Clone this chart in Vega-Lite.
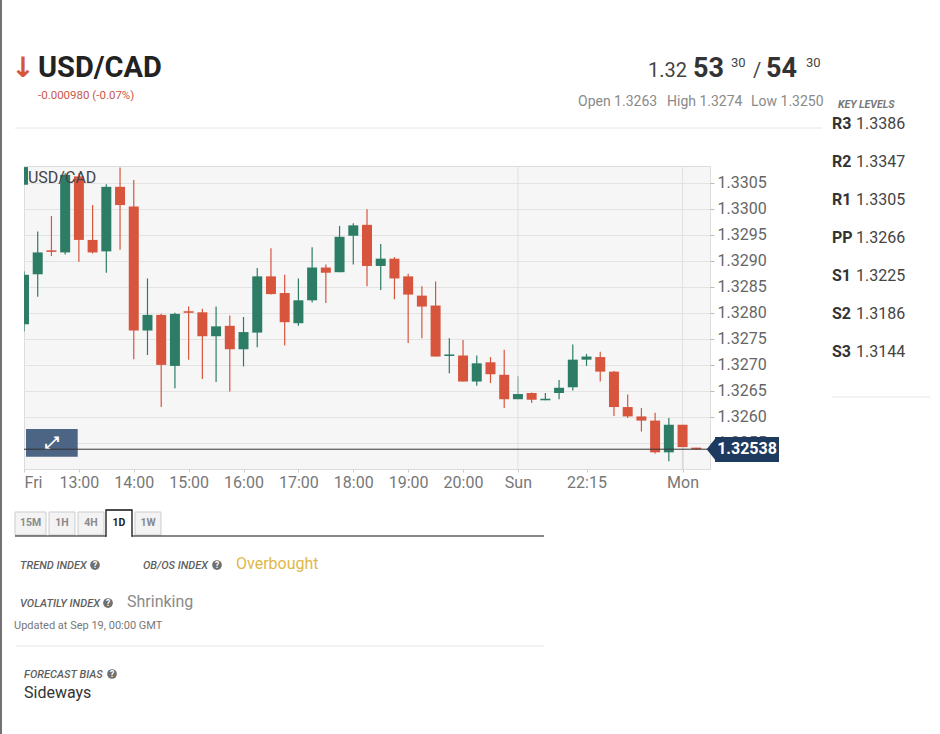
{
  "$schema": "https://vega.github.io/schema/vega-lite/v6.json",
  "width": 686,
  "height": 303,
  "autosize": {"type": "none"},
  "padding": {"left": 24, "top": 166, "right": 230, "bottom": 265},
  "background": "#ffffff",
  "config": {"font": "Roboto", "view": {"fill": "#f6f6f7", "stroke": "#dcdcdc"}},
  "datasets": {
    "candles": [
      {"i": 0, "time": "Fri 12:00", "open": 1.32778, "high": 1.32880, "low": 1.32764, "close": 1.32873},
      {"i": 1, "time": "Fri 12:15", "open": 1.32874, "high": 1.32956, "low": 1.32831, "close": 1.32916},
      {"i": 2, "time": "Fri 12:30", "open": 1.32920, "high": 1.32986, "low": 1.32909, "close": 1.32917},
      {"i": 3, "time": "Fri 12:45", "open": 1.32916, "high": 1.33068, "low": 1.32912, "close": 1.33065},
      {"i": 4, "time": "Fri 13:00", "open": 1.33062, "high": 1.33068, "low": 1.32898, "close": 1.32940},
      {"i": 5, "time": "Fri 13:15", "open": 1.32940, "high": 1.33007, "low": 1.32914, "close": 1.32916},
      {"i": 6, "time": "Fri 13:30", "open": 1.32918, "high": 1.33047, "low": 1.32877, "close": 1.33042},
      {"i": 7, "time": "Fri 13:45", "open": 1.33042, "high": 1.33079, "low": 1.32921, "close": 1.33007},
      {"i": 8, "time": "Fri 14:00", "open": 1.33004, "high": 1.33055, "low": 1.32711, "close": 1.32766},
      {"i": 9, "time": "Fri 14:15", "open": 1.32766, "high": 1.32866, "low": 1.32719, "close": 1.32796},
      {"i": 10, "time": "Fri 14:30", "open": 1.32796, "high": 1.32798, "low": 1.32619, "close": 1.32700},
      {"i": 11, "time": "Fri 14:45", "open": 1.32698, "high": 1.32800, "low": 1.32655, "close": 1.32798},
      {"i": 12, "time": "Fri 15:00", "open": 1.32803, "high": 1.32812, "low": 1.32710, "close": 1.32800},
      {"i": 13, "time": "Fri 15:15", "open": 1.32801, "high": 1.32808, "low": 1.32673, "close": 1.32755},
      {"i": 14, "time": "Fri 15:30", "open": 1.32755, "high": 1.32812, "low": 1.32667, "close": 1.32774},
      {"i": 15, "time": "Fri 15:45", "open": 1.32775, "high": 1.32795, "low": 1.32649, "close": 1.32730},
      {"i": 16, "time": "Fri 16:00", "open": 1.32730, "high": 1.32792, "low": 1.32697, "close": 1.32763},
      {"i": 17, "time": "Fri 16:15", "open": 1.32762, "high": 1.32886, "low": 1.32734, "close": 1.32870},
      {"i": 18, "time": "Fri 16:30", "open": 1.32870, "high": 1.32924, "low": 1.32835, "close": 1.32836},
      {"i": 19, "time": "Fri 16:45", "open": 1.32838, "high": 1.32873, "low": 1.32737, "close": 1.32782},
      {"i": 20, "time": "Fri 17:00", "open": 1.32780, "high": 1.32866, "low": 1.32775, "close": 1.32824},
      {"i": 21, "time": "Fri 17:15", "open": 1.32824, "high": 1.32926, "low": 1.32820, "close": 1.32887},
      {"i": 22, "time": "Fri 17:30", "open": 1.32887, "high": 1.32893, "low": 1.32819, "close": 1.32877},
      {"i": 23, "time": "Fri 17:45", "open": 1.32878, "high": 1.32967, "low": 1.32878, "close": 1.32946},
      {"i": 24, "time": "Fri 18:00", "open": 1.32948, "high": 1.32972, "low": 1.32893, "close": 1.32968},
      {"i": 25, "time": "Fri 18:15", "open": 1.32969, "high": 1.32999, "low": 1.32851, "close": 1.32890},
      {"i": 26, "time": "Fri 18:30", "open": 1.32890, "high": 1.32932, "low": 1.32844, "close": 1.32904},
      {"i": 27, "time": "Fri 18:45", "open": 1.32904, "high": 1.32907, "low": 1.32826, "close": 1.32866},
      {"i": 28, "time": "Fri 19:00", "open": 1.32870, "high": 1.32875, "low": 1.32742, "close": 1.32835},
      {"i": 29, "time": "Fri 19:15", "open": 1.32833, "high": 1.32851, "low": 1.32751, "close": 1.32812},
      {"i": 30, "time": "Fri 19:30", "open": 1.32814, "high": 1.32860, "low": 1.32716, "close": 1.32716},
      {"i": 31, "time": "Fri 19:45", "open": 1.32717, "high": 1.32751, "low": 1.32684, "close": 1.32720},
      {"i": 32, "time": "Fri 20:00", "open": 1.32718, "high": 1.32748, "low": 1.32668, "close": 1.32668},
      {"i": 33, "time": "Fri 20:15", "open": 1.32668, "high": 1.32718, "low": 1.32660, "close": 1.32703},
      {"i": 34, "time": "Fri 20:30", "open": 1.32705, "high": 1.32715, "low": 1.32665, "close": 1.32682},
      {"i": 35, "time": "Fri 20:45", "open": 1.32681, "high": 1.32729, "low": 1.32617, "close": 1.32634},
      {"i": 36, "time": "Sun 21:00", "open": 1.32634, "high": 1.32678, "low": 1.32634, "close": 1.32644},
      {"i": 37, "time": "Sun 21:15", "open": 1.32646, "high": 1.32647, "low": 1.32627, "close": 1.32633},
      {"i": 38, "time": "Sun 21:30", "open": 1.32632, "high": 1.32646, "low": 1.32632, "close": 1.32635},
      {"i": 39, "time": "Sun 21:45", "open": 1.32646, "high": 1.32671, "low": 1.32634, "close": 1.32656},
      {"i": 40, "time": "Sun 22:00", "open": 1.32657, "high": 1.32739, "low": 1.32651, "close": 1.32710},
      {"i": 41, "time": "Sun 22:15", "open": 1.32710, "high": 1.32721, "low": 1.32698, "close": 1.32716},
      {"i": 42, "time": "Sun 22:30", "open": 1.32715, "high": 1.32725, "low": 1.32668, "close": 1.32687},
      {"i": 43, "time": "Sun 22:45", "open": 1.32687, "high": 1.32688, "low": 1.32602, "close": 1.32619},
      {"i": 44, "time": "Sun 23:00", "open": 1.32619, "high": 1.32643, "low": 1.32598, "close": 1.32601},
      {"i": 45, "time": "Sun 23:15", "open": 1.32601, "high": 1.32617, "low": 1.32572, "close": 1.32593},
      {"i": 46, "time": "Sun 23:30", "open": 1.32593, "high": 1.32608, "low": 1.32530, "close": 1.32532},
      {"i": 47, "time": "Sun 23:45", "open": 1.32532, "high": 1.32598, "low": 1.32515, "close": 1.32585},
      {"i": 48, "time": "Mon 00:00", "open": 1.32585, "high": 1.32586, "low": 1.32496, "close": 1.32542},
      {"i": 49, "time": "Mon 00:15", "open": 1.32541, "high": 1.32541, "low": 1.32537, "close": 1.32538}
    ],
    "keylevels": [
      {"label": "R3", "value": "1.3386", "il": 58.892, "iv": 60.641, "v": 1.3315307},
      {"label": "R2", "value": "1.3347", "il": 58.892, "iv": 60.641, "v": 1.3308008},
      {"label": "R1", "value": "1.3305", "il": 58.892, "iv": 60.641, "v": 1.3300709},
      {"label": "PP", "value": "1.3266", "il": 58.892, "iv": 60.641, "v": 1.3293410},
      {"label": "S1", "value": "1.3225", "il": 58.892, "iv": 60.641, "v": 1.3286111},
      {"label": "S2", "value": "1.3186", "il": 58.892, "iv": 60.641, "v": 1.3278812},
      {"label": "S3", "value": "1.3144", "il": 58.892, "iv": 60.641, "v": 1.3271513}
    ],
    "icons": [
      {"i": 5.1749, "v": 1.323156, "text": "?"},
      {"i": 14.0671, "v": 1.323156, "text": "?"},
      {"i": 6.1224, "v": 1.3224261, "text": "?"},
      {"i": 6.414, "v": 1.3210624, "text": "?"}
    ],
    "lastprice": [{"i": 50.109, "ib": 50.364, "ib2": 55.029, "it": 52.697, "price": 1.32538, "top": 1.3256147, "bottom": 1.3251345, "text": "1.32538"}]
  },
  "layer": [
    {
      "data": {"name": "candles"},
      "mark": {"type": "rule", "strokeWidth": 1.2, "clip": true},
      "encoding": {
        "x": {
          "field": "i", "type": "quantitative",
          "scale": {"domain": [0, 50], "nice": false, "zero": false, "padding": 0},
          "axis": {
            "title": null,
            "values": [0, 4, 8, 12, 16, 20, 24, 28, 32, 36, 41, 48],
            "tickCount": 60,
            "labelExpr": "datum.value == 0 ? 'Fri' : datum.value == 36 ? 'Sun' : datum.value == 41 ? '22:15' : datum.value == 48 ? 'Mon' : (12 + datum.value / 4) + ':00'",
            "grid": false, "domain": false, "tickSize": 3, "tickColor": "#cccccc",
            "labelFontSize": 16, "labelColor": "#777777", "labelPadding": 2,
            "labelFlush": true, "labelOverlap": false
          }
        },
        "y": {
          "field": "low", "type": "quantitative",
          "scale": {"domain": [1.325, 1.33082], "nice": false, "zero": false, "padding": 0},
          "axis": {
            "title": null, "orient": "right",
            "values": [1.3255, 1.326, 1.3265, 1.327, 1.3275, 1.328, 1.3285, 1.329, 1.3295, 1.33, 1.3305],
            "tickCount": 30,
            "format": ".4f", "grid": true, "gridColor": "#e3e3e3", "domain": false,
            "tickSize": 4, "tickColor": "#bbbbbb", "labelFontSize": 16, "labelColor": "#666666",
            "labelPadding": 3, "labelOverlap": false
          }
        },
        "y2": {"field": "high"},
        "color": {"condition": {"test": "datum.close >= datum.open", "value": "#2d7d66"}, "value": "#d8553d"}
      }
    },
    {
      "data": {"values": [{"i": 36}, {"i": 48}]},
      "mark": {"type": "rule", "color": "#e0e0e2", "strokeWidth": 1},
      "encoding": {"x": {"field": "i", "type": "quantitative"}}
    },
    {
      "data": {"values": [{"i": 0, "i2": 0.29, "v": 1.3308, "v2": 1.33046}]},
      "mark": {"type": "rect", "color": "#2d7d66", "clip": true},
      "encoding": {
        "x": {"field": "i", "type": "quantitative"},
        "x2": {"field": "i2"},
        "y": {"field": "v", "type": "quantitative"},
        "y2": {"field": "v2"}
      }
    },
    {
      "data": {"name": "candles"},
      "mark": {"type": "bar", "size": 10, "clip": true},
      "encoding": {
        "x": {"field": "i", "type": "quantitative", "scale": {"domain": [0, 50], "nice": false, "zero": false, "padding": 0}},
        "y": {"field": "open", "type": "quantitative", "scale": {"domain": [1.325, 1.33082], "nice": false, "zero": false, "padding": 0}},
        "y2": {"field": "close"},
        "color": {"condition": {"test": "datum.close >= datum.open", "value": "#2d7d66"}, "value": "#d8553d"}
      }
    },
    {
      "data": {"values": [{"i": 0.146, "i2": 3.914, "v": 1.325768, "v2": 1.325236}]},
      "mark": {"type": "rect", "color": "#4d6584"},
      "encoding": {
        "x": {"field": "i", "type": "quantitative"},
        "x2": {"field": "i2"},
        "y": {"field": "v", "type": "quantitative"},
        "y2": {"field": "v2"}
      }
    },
    {
      "data": {"values": [{"i": 2.041, "v": 1.3254994, "text": "⤢"}]},
      "mark": {"type": "text", "align": "center", "baseline": "middle", "font": "DejaVu Sans", "fontSize": 17, "fontWeight": "bold", "color": "#ffffff"},
      "encoding": {
        "x": {"field": "i", "type": "quantitative"},
        "y": {"field": "v", "type": "quantitative"},
        "text": {"field": "text"}
      }
    },
    {
      "data": {"name": "lastprice"},
      "mark": {"type": "rule", "color": "#333333", "strokeWidth": 1},
      "encoding": {"y": {"field": "price", "type": "quantitative"}}
    },
    {
      "data": {"values": [{"i": 0.2915, "v": 1.3305, "text": "USD/CAD"}]},
      "mark": {"type": "text", "align": "left", "baseline": "alphabetic", "fontSize": 16, "color": "#444444"},
      "encoding": {
        "x": {"field": "i", "type": "quantitative"},
        "y": {"field": "v", "type": "quantitative"},
        "text": {"field": "text"}
      }
    },
    {
      "data": {"name": "lastprice"},
      "mark": {"type": "rect", "color": "#1f3a5f"},
      "encoding": {
        "x": {"field": "ib", "type": "quantitative"},
        "x2": {"field": "ib2"},
        "y": {"field": "top", "type": "quantitative"},
        "y2": {"field": "bottom"}
      }
    },
    {
      "data": {"name": "lastprice"},
      "mark": {"type": "point", "shape": "M -0.4 0 L 0.4 -1 L 0.4 1 Z", "size": 576, "filled": true, "opacity": 1, "color": "#1f3a5f"},
      "encoding": {
        "x": {"field": "i", "type": "quantitative"},
        "y": {"field": "price", "type": "quantitative"}
      }
    },
    {
      "data": {"name": "lastprice"},
      "mark": {"type": "text", "align": "center", "baseline": "middle", "fontSize": 16, "fontWeight": "bold", "color": "#ffffff"},
      "encoding": {
        "x": {"field": "it", "type": "quantitative"},
        "y": {"field": "price", "type": "quantitative"},
        "text": {"field": "text"}
      }
    },
    {
      "data": {"values": [{"i": -0.0729, "v": 1.3325295, "text": "↓"}]},
      "mark": {"type": "text", "align": "center", "baseline": "alphabetic", "font": "DejaVu Sans", "fontSize": 28, "fontWeight": "bold", "color": "#d8553d"},
      "encoding": {
        "x": {"field": "i", "type": "quantitative"},
        "y": {"field": "v", "type": "quantitative"},
        "text": {"field": "text"}
      }
    },
    {
      "data": {"values": [{"i": 1.0204, "v": 1.3325295, "text": "USD/CAD"}]},
      "mark": {"type": "text", "align": "left", "baseline": "alphabetic", "fontSize": 29, "fontWeight": "bold", "color": "#222222"},
      "encoding": {
        "x": {"field": "i", "type": "quantitative"},
        "y": {"field": "v", "type": "quantitative"},
        "text": {"field": "text"}
      }
    },
    {
      "data": {"values": [{"i": 1.0204, "v": 1.332107, "text": "-0.000980 (-0.07%)"}]},
      "mark": {"type": "text", "align": "left", "baseline": "alphabetic", "fontSize": 11.5, "color": "#c9574a"},
      "encoding": {
        "x": {"field": "i", "type": "quantitative"},
        "y": {"field": "v", "type": "quantitative"},
        "text": {"field": "text"}
      }
    },
    {
      "data": {"values": [{"i": 45.481, "v": 1.3325295, "text": "1.32"}, {"i": 53.134, "v": 1.3325295, "text": "/"}]},
      "mark": {"type": "text", "align": "left", "baseline": "alphabetic", "fontSize": 20, "color": "#444444"},
      "encoding": {
        "x": {"field": "i", "type": "quantitative"},
        "y": {"field": "v", "type": "quantitative"},
        "text": {"field": "text"}
      }
    },
    {
      "data": {"values": [{"i": 48.7609, "v": 1.3325295, "text": "53"}, {"i": 54.0816, "v": 1.3325295, "text": "54"}]},
      "mark": {"type": "text", "align": "left", "baseline": "alphabetic", "fontSize": 27, "fontWeight": "bold", "color": "#333333"},
      "encoding": {
        "x": {"field": "i", "type": "quantitative"},
        "y": {"field": "v", "type": "quantitative"},
        "text": {"field": "text"}
      }
    },
    {
      "data": {"values": [{"i": 51.5306, "v": 1.3327216, "text": "30"}, {"i": 56.9971, "v": 1.3327216, "text": "30"}]},
      "mark": {"type": "text", "align": "left", "baseline": "alphabetic", "fontSize": 13, "color": "#444444"},
      "encoding": {
        "x": {"field": "i", "type": "quantitative"},
        "y": {"field": "v", "type": "quantitative"},
        "text": {"field": "text"}
      }
    },
    {
      "data": {"values": [
        {"i": 40.379, "v": 1.3319725, "text": "Open 1.3263"},
        {"i": 46.8659, "v": 1.3319725, "text": "High 1.3274"},
        {"i": 52.9883, "v": 1.3319725, "text": "Low 1.3250"}
      ]},
      "mark": {"type": "text", "align": "left", "baseline": "alphabetic", "fontSize": 14, "color": "#8a8a8a"},
      "encoding": {
        "x": {"field": "i", "type": "quantitative"},
        "y": {"field": "v", "type": "quantitative"},
        "text": {"field": "text"}
      }
    },
    {
      "data": {"values": [{"i": 59.3294, "v": 1.3319341, "text": "KEY LEVELS"}]},
      "mark": {"type": "text", "align": "left", "baseline": "alphabetic", "fontSize": 10.5, "fontWeight": "bold", "fontStyle": "italic", "color": "#777777"},
      "encoding": {
        "x": {"field": "i", "type": "quantitative"},
        "y": {"field": "v", "type": "quantitative"},
        "text": {"field": "text"}
      }
    },
    {
      "data": {"name": "keylevels"},
      "mark": {"type": "text", "align": "left", "baseline": "alphabetic", "fontSize": 16, "fontWeight": "bold", "color": "#333333"},
      "encoding": {
        "x": {"field": "il", "type": "quantitative"},
        "y": {"field": "v", "type": "quantitative"},
        "text": {"field": "label"}
      }
    },
    {
      "data": {"name": "keylevels"},
      "mark": {"type": "text", "align": "left", "baseline": "alphabetic", "fontSize": 16, "color": "#444444"},
      "encoding": {
        "x": {"field": "iv", "type": "quantitative"},
        "y": {"field": "v", "type": "quantitative"},
        "text": {"field": "value"}
      }
    },
    {
      "data": {"values": [
        {"i": -0.656, "i2": 58.1633, "v": 1.3315499},
        {"i": 58.8921, "i2": 66.035, "v": 1.326383},
        {"i": -0.5831, "i2": 37.9009, "v": 1.3216002}
      ]},
      "mark": {"type": "rule", "color": "#e6e6e6", "strokeWidth": 1},
      "encoding": {
        "x": {"field": "i", "type": "quantitative"},
        "x2": {"field": "i2"},
        "y": {"field": "v", "type": "quantitative"}
      }
    },
    {
      "data": {"values": [{"i": -1.6764, "v": 1.3340085, "v2": 1.3199099}]},
      "mark": {"type": "rule", "color": "#444444", "strokeWidth": 1.5},
      "encoding": {
        "x": {"field": "i", "type": "quantitative"},
        "y": {"field": "v", "type": "quantitative"},
        "y2": {"field": "v2"}
      }
    },
    {
      "data": {"values": [
        {"i": -0.656, "i2": 1.6035, "v": 1.3241741, "v2": 1.3237323},
        {"i": 1.8222, "i2": 3.7172, "v": 1.3241741, "v2": 1.3237323},
        {"i": 3.9359, "i2": 5.8309, "v": 1.3241741, "v2": 1.3237323},
        {"i": 8.0904, "i2": 9.9854, "v": 1.3241741, "v2": 1.3237323}
      ]},
      "mark": {"type": "rect", "fill": "#f3f3f3", "stroke": "#cccccc", "strokeWidth": 1},
      "encoding": {
        "x": {"field": "i", "type": "quantitative"},
        "x2": {"field": "i2"},
        "y": {"field": "v", "type": "quantitative"},
        "y2": {"field": "v2"}
      }
    },
    {
      "data": {"values": [
        {"i": -0.656, "i2": 5.9767, "v": 1.3237131},
        {"i": 7.8717, "i2": 37.9009, "v": 1.3237131}
      ]},
      "mark": {"type": "rule", "color": "#111111", "strokeWidth": 1.2},
      "encoding": {
        "x": {"field": "i", "type": "quantitative"},
        "x2": {"field": "i2"},
        "y": {"field": "v", "type": "quantitative"}
      }
    },
    {
      "data": {"values": [{"i": 5.9767, "i2": 7.8717, "v": 1.3242125, "v2": 1.3237131}]},
      "mark": {"type": "rect", "fill": "#ffffff", "stroke": "#111111", "strokeWidth": 1.3},
      "encoding": {
        "x": {"field": "i", "type": "quantitative"},
        "x2": {"field": "i2"},
        "y": {"field": "v", "type": "quantitative"},
        "y2": {"field": "v2"}
      }
    },
    {
      "data": {"values": [{"i": 6.03, "i2": 7.82, "v": 1.3237131}]},
      "mark": {"type": "rule", "color": "#ffffff", "strokeWidth": 2.5},
      "encoding": {
        "x": {"field": "i", "type": "quantitative"},
        "x2": {"field": "i2"},
        "y": {"field": "v", "type": "quantitative"}
      }
    },
    {
      "data": {"values": [
        {"i": 0.4738, "v": 1.3239532, "text": "15M"},
        {"i": 2.7697, "v": 1.3239532, "text": "1H"},
        {"i": 4.8834, "v": 1.3239532, "text": "4H"},
        {"i": 9.0379, "v": 1.3239532, "text": "1W"}
      ]},
      "mark": {"type": "text", "align": "center", "baseline": "middle", "fontSize": 10.5, "fontWeight": "bold", "color": "#8a8a8a"},
      "encoding": {
        "x": {"field": "i", "type": "quantitative"},
        "y": {"field": "v", "type": "quantitative"},
        "text": {"field": "text"}
      }
    },
    {
      "data": {"values": [{"i": 6.9242, "v": 1.3239532, "text": "1D"}]},
      "mark": {"type": "text", "align": "center", "baseline": "middle", "fontSize": 10.5, "fontWeight": "bold", "color": "#222222"},
      "encoding": {
        "x": {"field": "i", "type": "quantitative"},
        "y": {"field": "v", "type": "quantitative"},
        "text": {"field": "text"}
      }
    },
    {
      "data": {"values": [
        {"i": -0.2915, "v": 1.3230792, "text": "TREND INDEX"},
        {"i": 8.6735, "v": 1.3230792, "text": "OB/OS INDEX"},
        {"i": -0.2915, "v": 1.3223493, "text": "VOLATILY INDEX"},
        {"i": 0, "v": 1.3209856, "text": "FORECAST BIAS"}
      ]},
      "mark": {"type": "text", "align": "left", "baseline": "alphabetic", "fontSize": 11, "fontWeight": 500, "fontStyle": "italic", "color": "#5f5f5f"},
      "encoding": {
        "x": {"field": "i", "type": "quantitative"},
        "y": {"field": "v", "type": "quantitative"},
        "text": {"field": "text"}
      }
    },
    {
      "data": {"name": "icons"},
      "mark": {"type": "point", "shape": "circle", "filled": true, "opacity": 1, "size": 95, "color": "#707070"},
      "encoding": {
        "x": {"field": "i", "type": "quantitative"},
        "y": {"field": "v", "type": "quantitative"}
      }
    },
    {
      "data": {"name": "icons"},
      "mark": {"type": "text", "align": "center", "baseline": "middle", "fontSize": 8.5, "fontWeight": "bold", "color": "#ffffff"},
      "encoding": {
        "x": {"field": "i", "type": "quantitative"},
        "y": {"field": "v", "type": "quantitative"},
        "text": {"field": "text"}
      }
    },
    {
      "data": {"values": [{"i": 15.4519, "v": 1.3230792, "text": "Overbought"}]},
      "mark": {"type": "text", "align": "left", "baseline": "alphabetic", "fontSize": 16, "color": "#e0b848"},
      "encoding": {
        "x": {"field": "i", "type": "quantitative"},
        "y": {"field": "v", "type": "quantitative"},
        "text": {"field": "text"}
      }
    },
    {
      "data": {"values": [{"i": 7.5073, "v": 1.3223493, "text": "Shrinking"}]},
      "mark": {"type": "text", "align": "left", "baseline": "alphabetic", "fontSize": 16, "color": "#8a8a8a"},
      "encoding": {
        "x": {"field": "i", "type": "quantitative"},
        "y": {"field": "v", "type": "quantitative"},
        "text": {"field": "text"}
      }
    },
    {
      "data": {"values": [{"i": -0.7289, "v": 1.3219267, "text": "Updated at Sep 19, 00:00 GMT"}]},
      "mark": {"type": "text", "align": "left", "baseline": "alphabetic", "fontSize": 11, "color": "#777777"},
      "encoding": {
        "x": {"field": "i", "type": "quantitative"},
        "y": {"field": "v", "type": "quantitative"},
        "text": {"field": "text"}
      }
    },
    {
      "data": {"values": [{"i": 0, "v": 1.3206014, "text": "Sideways"}]},
      "mark": {"type": "text", "align": "left", "baseline": "alphabetic", "fontSize": 16, "color": "#333333"},
      "encoding": {
        "x": {"field": "i", "type": "quantitative"},
        "y": {"field": "v", "type": "quantitative"},
        "text": {"field": "text"}
      }
    }
  ]
}
